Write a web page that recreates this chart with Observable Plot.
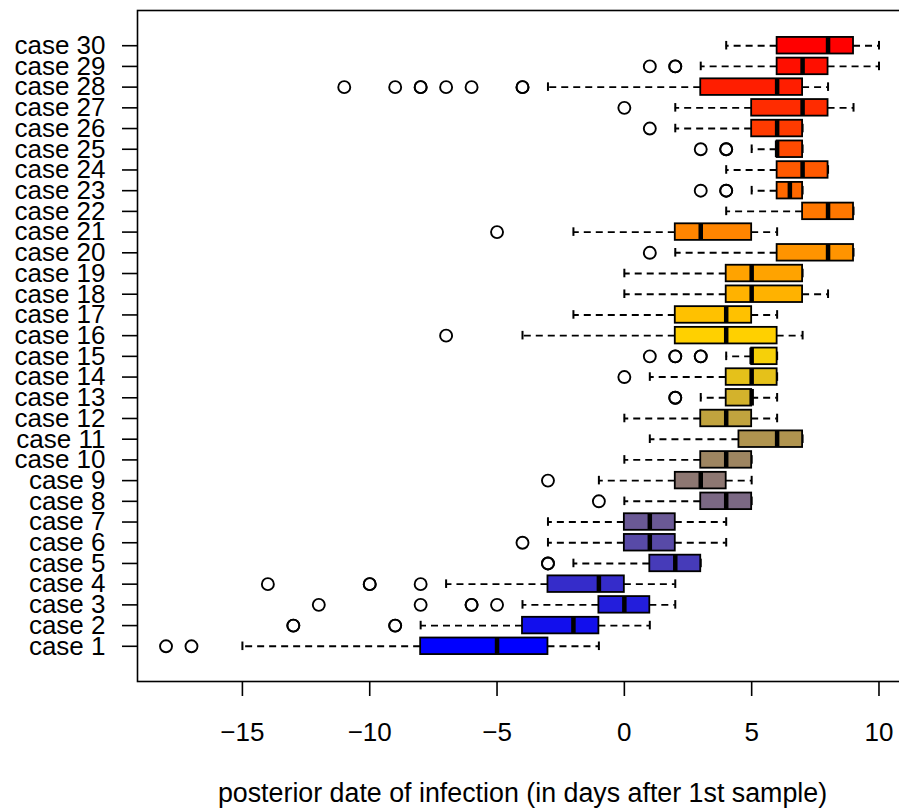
<!DOCTYPE html>
<html>
<head>
<meta charset="utf-8">
<script src="https://cdn.jsdelivr.net/npm/d3@7"></script>
<script src="https://cdn.jsdelivr.net/npm/@observablehq/plot@0.6"></script>
<style>
  html, body { margin: 0; padding: 0; background: white; overflow: hidden; }
  #wrap { width: 899px; height: 812px; overflow: hidden; }
  #wrap svg { max-width: none !important; }
</style>
</head>
<body>
<div id="wrap"></div>
<script>
// ---- data ----
const cases = Array.from({length: 30}, (_, i) => "case " + (i + 1));
const whiskLo = [-15, -8, -4, -7, -2, -3, -3, 0, -1, 0, 1, 0, 3, 1, 4, -4, -2, 0, 0, 2, -2, 4, 5, 4, 5, 2, 2, -3, 3, 4];
const q1      = [-8, -4, -1, -3, 1, 0, 0, 3, 2, 3, 4.5, 3, 4, 4, 5, 2, 2, 4, 4, 6, 2, 7, 6, 6, 6, 5, 5, 3, 6, 6];
const median  = [-5, -2, 0, -1, 2, 1, 1, 4, 3, 4, 6, 4, 5, 5, 5, 4, 4, 5, 5, 8, 3, 8, 6.5, 7, 6, 6, 7, 6, 7, 8];
const q3      = [-3, -1, 1, 0, 3, 2, 2, 5, 4, 5, 7, 5, 5, 6, 6, 6, 5, 7, 7, 9, 5, 9, 7, 8, 7, 7, 8, 7, 8, 9];
const whiskHi = [-1, 1, 2, 2, 3, 4, 4, 5, 5, 5, 7, 6, 6, 6, 6, 7, 6, 8, 7, 9, 6, 9, 7, 8, 7, 7, 9, 8, 10, 10];
const outliers = [
  [-18, -17],
  [-13, -13, -9, -9],
  [-12, -8, -6, -6, -5],
  [-14, -10, -10, -8],
  [-3, -3],
  [-4],
  [],
  [-1],
  [-3],
  [],
  [],
  [],
  [2, 2],
  [0],
  [1, 2, 2, 3, 3],
  [-7],
  [],
  [],
  [],
  [1],
  [-5],
  [],
  [3, 4, 4],
  [],
  [3, 4, 4],
  [1],
  [0],
  [-11, -9, -8, -8, -7, -6, -4, -4],
  [1, 2, 2],
  []
];
const xTicks = [-15, -10, -5, 0, 5, 10];
const xTitle = "posterior date of infection (in days after 1st sample)";

// ---- tables ----
const ramp = d3.piecewise(d3.interpolateRgb, ["blue", "gold", "red"]);
const rows = cases.map((c, i) => ({
  case: c, i, lo: whiskLo[i], q1: q1[i], med: median[i], q3: q3[i], hi: whiskHi[i],
  color: ramp(i / (cases.length - 1))
}));
const outRows = outliers.flatMap((vs, i) => vs.map(v => ({case: cases[i], v})));

const fontFamily = "'Liberation Sans', Arial, Helvetica, sans-serif";

const chart = Plot.plot({
  width: 910,
  height: 812,
  marginLeft: 137,
  marginRight: 3,
  marginTop: 10,
  marginBottom: 131,
  style: {fontFamily, fontSize: "26px", color: "black", background: "white", maxWidth: "none"},
  x: {domain: [-19.12, 11.12]},
  y: {type: "band", domain: cases.slice().reverse(), paddingInner: 0.2, paddingOuter: 1.3, round: false},
  color: {type: "identity"},
  marks: [
    Plot.ruleY(rows, {y: "case", x1: "q1", x2: "lo", stroke: "black", strokeWidth: 1.9, strokeDasharray: "7,5"}),
    Plot.ruleY(rows, {y: "case", x1: "q3", x2: "hi", stroke: "black", strokeWidth: 1.9, strokeDasharray: "7,5"}),
    Plot.tickX(rows, {x: "lo", y: "case", stroke: "black", strokeWidth: 2, insetTop: 4, insetBottom: 4}),
    Plot.tickX(rows, {x: "hi", y: "case", stroke: "black", strokeWidth: 2, insetTop: 4, insetBottom: 4}),
    Plot.barX(rows, {x1: "q1", x2: "q3", y: "case", fill: "color", stroke: "black", strokeWidth: 1.8}),
    Plot.tickX(rows, {x: "med", y: "case", stroke: "black", strokeWidth: 4.5}),
    Plot.dot(outRows, {x: "v", y: "case", r: 6, stroke: "black", strokeWidth: 1.9, fill: "none"}),
    Plot.frame({stroke: "black", strokeWidth: 1.6}),
    Plot.axisX({ticks: xTicks, tickSize: 15, tickPadding: 26, fontSize: 26, strokeWidth: 1.6, label: null}),
    Plot.axisY({tickSize: 15, tickPadding: 17, fontSize: 26, strokeWidth: 1.6, label: null}),
    Plot.text([xTitle], {frameAnchor: "bottom", dy: 120, fontSize: 26.8, fill: "black"})
  ]
});
document.getElementById("wrap").appendChild(chart);
</script>
</body>
</html>
